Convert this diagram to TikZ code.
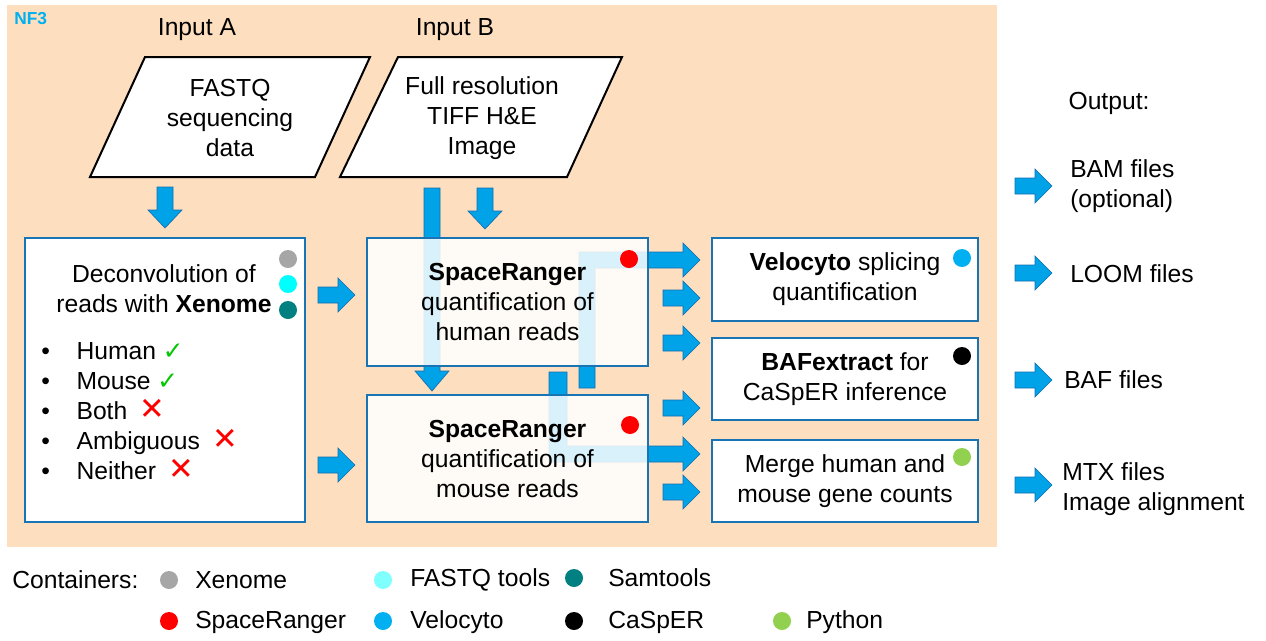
\documentclass[tikz,border=0pt]{standalone}
\usepackage{fontspec}
\setmainfont{Liberation Sans}
\newfontfamily\symfont{DejaVu Sans}
\usetikzlibrary{calc}

\definecolor{peach}{RGB}{253,222,190}
\definecolor{boxblue}{RGB}{24,116,178}
\definecolor{arrowfill}{RGB}{0,162,232}
\definecolor{arrowedge}{RGB}{20,110,175}
\definecolor{nfblue}{RGB}{0,176,240}
\definecolor{xgrey}{RGB}{166,166,166}
\definecolor{xcyan}{RGB}{0,255,255}
\definecolor{lcyan}{RGB}{128,255,255}
\definecolor{xteal}{RGB}{0,128,128}
\definecolor{pygreen}{RGB}{146,208,80}
\definecolor{okgreen}{RGB}{0,200,0}

\newcommand{\yes}{{\symfont\color{okgreen}✓}}
\newcommand{\nope}{\hspace{4pt}{\symfont\fontsize{23}{23}\selectfont\color{red}✕}}

\begin{document}
\begin{tikzpicture}[x=0.75pt,y=-0.75pt,
  every node/.style={font=\fontsize{18.5}{22.5}\selectfont, inner sep=0pt},
  box/.style={draw=boxblue, line width=2pt, fill=white},
  srbox/.style={box, fill opacity=0.85, text opacity=1, align=center},
  blockarrow/.style={fill=arrowfill, draw=arrowedge, line width=0.5pt},
  rarrow/.pic={\draw[blockarrow] (0,-8)--(20,-8)--(20,-17)--(37,0)--(20,17)--(20,8)--(0,8)--cycle;},
  darrow/.pic={\draw[blockarrow] (-8,0)--(-8,23)--(-17,23)--(0,41)--(17,23)--(8,23)--(8,0)--cycle;}]
\useasboundingbox (0,0) rectangle (1266,640);

\fill[peach] (7,5) rectangle (997,547);
\node[anchor=west, font=\fontsize{13}{14}\selectfont\bfseries, text=nfblue] (nf) at (14,19) {NF3};

% inputs
\node (ina) at (197,30) {Input A};
\node (inb) at (455,30) {Input B};
\draw[line width=1.5pt, fill=white] (145,57)--(370,57)--(315,177)--(90,177)--cycle;
\draw[line width=1.5pt, fill=white] (398,57)--(622,57)--(567,177)--(340,177)--cycle;
\node[align=center] (fastq) at (230,118) {FASTQ\\sequencing\\data};
\node[align=center] (tiff) at (482,118) {Full resolution\\TIFF H\&E\\Image};

% arrows
\pic at (165,187) {darrow};
\pic at (485,188) {darrow};
\draw[blockarrow] (424,188)--(424,371)--(415,371)--(432,391)--(449,371)--(440,371)--(440,188)--cycle;
\draw[blockarrow] (579,388)--(579,252)--(683,252)--(683,243)--(700,260)--(683,277)--(683,268)--(595,268)--(595,388)--cycle;
\draw[blockarrow] (549,372)--(549,462)--(683,462)--(683,471)--(700,454)--(683,437)--(683,446)--(567,446)--(567,372)--cycle;
\foreach \y in {295,465} \pic at (318,\y) {rarrow};
\foreach \y in {298,343,408,492} \pic at (663,\y) {rarrow};
\foreach \y in {186,273,380,485} \pic at (1015,\y) {rarrow};

% xenome
\node[box, minimum width=210pt, minimum height=213pt] (xen) at (165,380) {};
\node[align=center] (xentxt) at (164,289) {Deconvolution of\\reads with \textbf{Xenome}};
\node[anchor=west] (xenlist) at (41,413) {\begin{tabular}{@{}l@{\hspace{20pt}}l@{}}
\textbullet & Human \yes\\
\textbullet & Mouse \yes\\
\textbullet & Both \nope\\
\textbullet & Ambiguous \nope\\
\textbullet & Neither \nope
\end{tabular}};
\fill[xgrey] (288,259) circle (6.75pt);
\fill[xcyan] (288,284) circle (6.75pt);
\fill[xteal] (288,310) circle (6.75pt);

% spaceranger
\node[srbox, minimum width=210.75pt, minimum height=96pt] (srh) at (507.5,302) {\textbf{SpaceRanger}\\quantification of\\human reads};
\node[srbox, minimum width=210.75pt, minimum height=95.25pt] (srm) at (507.5,458.5) {\textbf{SpaceRanger}\\quantification of\\mouse reads};
\fill[red] (629,259) circle (6.75pt);
\fill[red] (630,425) circle (6.75pt);

% tools
\node[box, align=center, minimum width=199.5pt, minimum height=62.25pt] (velo) at (845,279.5) {\textbf{Velocyto} splicing\\quantification};
\node[box, align=center, minimum width=199.5pt, minimum height=61.5pt] (baf) at (845,379) {\textbf{BAFextract} for\\CaSpER inference};
\node[box, align=center, minimum width=199.5pt, minimum height=61.5pt] (merge) at (845,481) {Merge human and\\mouse gene counts};
\fill[nfblue] (962,258) circle (6.75pt);
\fill[black] (962,356) circle (6.75pt);
\fill[pygreen] (962,457) circle (6.75pt);

% outputs
\node (out) at (1109,103) {Output:};
\node[anchor=west, align=left] (bam) at (1070,186) {BAM files\\(optional)};
\node[anchor=west] (loom) at (1070,274) {LOOM files};
\node[anchor=west] (baff) at (1064,380) {BAF files};
\node[anchor=west, align=left] (mtx) at (1062,489) {MTX files\\Image alignment};

% legend
\node[anchor=west] (cont) at (12,580) {Containers:};
\fill[xgrey] (169,580) circle (6.75pt);
\fill[lcyan] (383,580) circle (6.75pt);
\fill[xteal] (574,578) circle (6.75pt);
\fill[red] (169,621) circle (6.75pt);
\fill[nfblue] (383,621) circle (6.75pt);
\fill[black] (574,621) circle (6.75pt);
\fill[pygreen] (782,621) circle (6.75pt);
\node[anchor=west] (lx) at (195,580) {Xenome};
\node[anchor=west] (lf) at (410,580) {FASTQ tools};
\node[anchor=west] (ls) at (608,578) {Samtools};
\node[anchor=west] (lsr) at (195,622) {SpaceRanger};
\node[anchor=west] (lv) at (410,622) {Velocyto};
\node[anchor=west] (lc) at (608,622) {CaSpER};
\node[anchor=west] (lp) at (806,622) {Python};
\end{tikzpicture}
\end{document}
